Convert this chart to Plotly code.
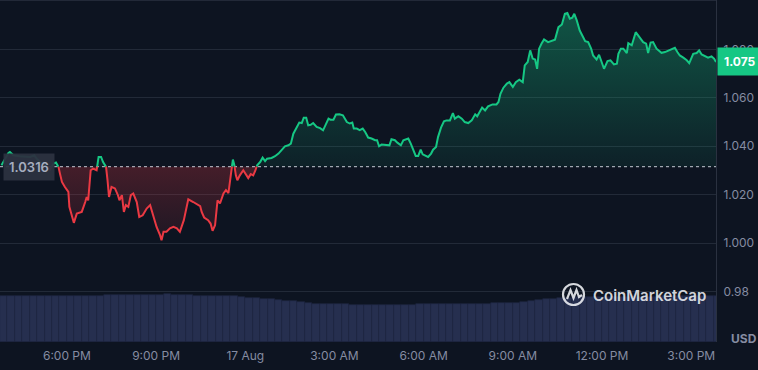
import datetime as dt
import plotly.graph_objects as go

# ---------------- data ----------------
START = dt.datetime(2023, 8, 16, 15, 45)
BASE_PRICE = 1.0316
LAST_PRICE = 1.075

# minutes after START
price_minutes = [3, 17, 20, 27, 40, 61, 69, 74, 81, 91, 101, 108, 113, 118, 121, 125, 131, 138, 140, 145,
                 149, 155, 165, 172, 175, 178, 183, 188, 195, 199, 204, 208, 214, 217, 220, 225, 232, 238, 241, 246,
                 250, 254, 259, 264, 269, 276, 281, 288, 296, 303, 309, 316, 323, 326, 330, 336, 343, 350, 357, 363,
                 371, 377, 380, 390, 404, 407, 412, 420, 425, 429, 434, 439, 444, 451, 456, 461, 464, 468, 470, 473,
                 476, 479, 484, 491, 498, 501, 506, 511, 515, 519, 525, 530, 535, 539, 548, 555, 562, 568, 575, 582,
                 587, 592, 599, 604, 609, 613, 618, 622, 627, 632, 639, 646, 652, 658, 663, 667, 673, 678, 685, 692,
                 696, 700, 706, 711, 714, 720, 726, 732, 737, 743, 750, 757, 761, 765, 770, 780, 786, 790, 797, 802,
                 809, 814, 824, 829, 834, 839, 844, 849, 853, 860, 864, 870, 874, 880, 884, 890, 896, 901, 908, 914,
                 918, 925, 932, 938, 945, 952, 959, 963, 969, 973, 979, 985, 994, 1002, 1006, 1010, 1016, 1023, 1028, 1035,
                 1041, 1048, 1055, 1059, 1065, 1070, 1075, 1080, 1084, 1088, 1093, 1098, 1106, 1113, 1120, 1127, 1134, 1140, 1145, 1150,
                 1155, 1159, 1164, 1170, 1176, 1181, 1187, 1193, 1197, 1204, 1209, 1214, 1219, 1226, 1232, 1239, 1245, 1248, 1253, 1258,
                 1265, 1268, 1275, 1283, 1290, 1298, 1304, 1308, 1313, 1318, 1325, 1335, 1342, 1349, 1355, 1362, 1367, 1372, 1379, 1386,
                 1391, 1399, 1406, 1411, 1416, 1423, 1429, 1436, 1441, 1445]

price_values = [1.0322, 1.0372, 1.0376, 1.0363, 1.0359, 1.0356, 1.0363, 1.0349, 1.0335, 1.0322, 1.0304, 1.0329, 1.0333, 1.0315, 1.0287, 1.0253, 1.0232, 1.0212, 1.0150, 1.0115,
                1.0084, 1.0122, 1.0129, 1.0170, 1.0191, 1.0177, 1.0301, 1.0308, 1.0301, 1.0356, 1.0356, 1.0335, 1.0315, 1.0260, 1.0191, 1.0232, 1.0226, 1.0198, 1.0177, 1.0198,
                1.0129, 1.0157, 1.0150, 1.0198, 1.0205, 1.0170, 1.0108, 1.0115, 1.0143, 1.0157, 1.0115, 1.0067, 1.0033, 1.0012, 1.0047, 1.0047, 1.0061, 1.0067, 1.0061, 1.0047,
                1.0095, 1.0150, 1.0181, 1.0170, 1.0153, 1.0129, 1.0106, 1.0095, 1.0081, 1.0051, 1.0074, 1.0177, 1.0164, 1.0205, 1.0219, 1.0207, 1.0260, 1.0315, 1.0345, 1.0322,
                1.0280, 1.0260, 1.0280, 1.0301, 1.0280, 1.0269, 1.0285, 1.0280, 1.0298, 1.0322, 1.0335, 1.0353, 1.0339, 1.0349, 1.0352, 1.0359, 1.0370, 1.0384, 1.0400, 1.0404,
                1.0411, 1.0452, 1.0480, 1.0498, 1.0496, 1.0518, 1.0518, 1.0487, 1.0489, 1.0496, 1.0480, 1.0475, 1.0466, 1.0494, 1.0514, 1.0510, 1.0510, 1.0531, 1.0532, 1.0528,
                1.0514, 1.0500, 1.0494, 1.0498, 1.0473, 1.0473, 1.0467, 1.0473, 1.0459, 1.0436, 1.0432, 1.0425, 1.0425, 1.0400, 1.0407, 1.0404, 1.0404, 1.0429, 1.0425, 1.0415,
                1.0404, 1.0425, 1.0432, 1.0411, 1.0384, 1.0360, 1.0360, 1.0386, 1.0367, 1.0360, 1.0356, 1.0370, 1.0386, 1.0397, 1.0438, 1.0477, 1.0503, 1.0507, 1.0507, 1.0537,
                1.0514, 1.0524, 1.0514, 1.0500, 1.0496, 1.0507, 1.0532, 1.0524, 1.0546, 1.0560, 1.0548, 1.0565, 1.0573, 1.0573, 1.0583, 1.0617, 1.0642, 1.0659, 1.0665, 1.0645,
                1.0665, 1.0675, 1.0665, 1.0734, 1.0748, 1.0796, 1.0762, 1.0758, 1.0720, 1.0803, 1.0824, 1.0841, 1.0830, 1.0834, 1.0840, 1.0892, 1.0903, 1.0947, 1.0950, 1.0927,
                1.0931, 1.0947, 1.0920, 1.0878, 1.0851, 1.0834, 1.0830, 1.0803, 1.0775, 1.0758, 1.0778, 1.0748, 1.0720, 1.0752, 1.0755, 1.0738, 1.0741, 1.0782, 1.0803, 1.0803,
                1.0785, 1.0826, 1.0817, 1.0871, 1.0854, 1.0830, 1.0824, 1.0785, 1.0828, 1.0830, 1.0803, 1.0786, 1.0789, 1.0796, 1.0799, 1.0807, 1.0789, 1.0775, 1.0766, 1.0755,
                1.0743, 1.0782, 1.0785, 1.0796, 1.0779, 1.0771, 1.0766, 1.0771, 1.0762, 1.0748]

# volume bars, one every 15 minutes (arbitrary units)
volume_step_min = 15
volume_values = [94, 94, 94, 94, 94, 94, 94, 94, 94, 94, 94, 94, 94, 94,
                 96, 96, 96, 96, 96, 96, 96, 96, 98,
                 96, 96, 96, 95, 95, 95, 95, 94,
                 94, 92, 91, 90, 89,
                 88, 86, 84, 83, 81,
                 79, 78, 78, 77, 77, 77, 76, 76, 76, 76, 76, 76, 76, 76, 76,
                 77, 77, 77, 77, 77, 77, 78, 78, 78, 78, 79, 79, 80, 80, 81,
                 83, 85, 87, 89, 90,
                 91, 92, 92, 92, 93, 93, 93, 93, 93, 93, 93, 93, 93, 94, 94, 94, 94, 94, 94, 94, 94]

y_tick_vals = [0.98, 1.00, 1.02, 1.04, 1.06, 1.08]
y_tick_text = ["0.98", "1.000", "1.020", "1.040", "1.060", "1.080"]
x_tick_times = ["2023-08-16 18:00", "2023-08-16 21:00", "2023-08-17 00:00", "2023-08-17 03:00",
                "2023-08-17 06:00", "2023-08-17 09:00", "2023-08-17 12:00", "2023-08-17 15:00"]
x_tick_text = ["6:00 PM", "9:00 PM", "17 Aug", "3:00 AM", "6:00 AM", "9:00 AM", "12:00 PM", "3:00 PM"]

# ---------------- styling ----------------
BG = "#0d1421"
GRID = "#222a38"
GREEN = "#16c784"
RED = "#ea3943"
TXT = "#858ca2"
FONT = "Inter, 'Noto Sans', sans-serif"
W, H = 758, 370
ML, MR, MT, MB = 0, 42, 0, 28
PW, PH = W - ML - MR, H - MT - MB
X_END_MIN = 1445
Y_RANGE = [0.9592, 1.1004]

# ---------------- build series ----------------
def tm(m):
    return START + dt.timedelta(minutes=m)

# insert crossing points with the baseline so colours split exactly
xs, ys = [], []
for i, (m, v) in enumerate(zip(price_minutes, price_values)):
    if i > 0:
        pm, pv = price_minutes[i - 1], price_values[i - 1]
        if (pv - BASE_PRICE) * (v - BASE_PRICE) < 0:
            f = (BASE_PRICE - pv) / (v - pv)
            xs.append(tm(pm + f * (m - pm)))
            ys.append(BASE_PRICE)
    xs.append(tm(m))
    ys.append(v)

above = [max(v, BASE_PRICE) for v in ys]
below = [min(v, BASE_PRICE) for v in ys]
green_line = [v if v >= BASE_PRICE else None for v in ys]
red_line = [v if v <= BASE_PRICE else None for v in ys]
base_line = [BASE_PRICE] * len(xs)

vol_x = [tm(i * volume_step_min + volume_step_min / 2) for i in range(len(volume_values))]

fig = go.Figure()

fig.add_trace(go.Bar(x=vol_x, y=volume_values, yaxis="y2",
                     marker=dict(color="#262f4f", line=dict(color="#1f2742", width=0.6)),
                     width=volume_step_min * 60 * 1000, hoverinfo="skip", showlegend=False))

fig.add_trace(go.Scatter(x=xs, y=base_line, mode="lines", line=dict(width=0),
                         hoverinfo="skip", showlegend=False))
fig.add_trace(go.Scatter(x=xs, y=above, mode="lines", line=dict(width=0), fill="tonexty",
                         fillgradient=dict(type="vertical",
                                           colorscale=[[0, "rgba(22,199,132,0.07)"], [1, "rgba(22,199,132,0.36)"]]),
                         hoverinfo="skip", showlegend=False))
fig.add_trace(go.Scatter(x=xs, y=base_line, mode="lines", line=dict(width=0),
                         hoverinfo="skip", showlegend=False))
fig.add_trace(go.Scatter(x=xs, y=below, mode="lines", line=dict(width=0), fill="tonexty",
                         fillgradient=dict(type="vertical",
                                           colorscale=[[0, "rgba(234,57,67,0.08)"], [1, "rgba(234,57,67,0.25)"]]),
                         hoverinfo="skip", showlegend=False))

fig.add_trace(go.Scatter(x=[tm(0), tm(X_END_MIN)], y=[BASE_PRICE, BASE_PRICE], mode="lines",
                         line=dict(color="rgba(210,214,224,0.75)", width=1.2, dash="dot"),
                         hoverinfo="skip", showlegend=False))

fig.add_trace(go.Scatter(x=xs, y=green_line, mode="lines", line=dict(color=GREEN, width=2),
                         connectgaps=False, hoverinfo="skip", showlegend=False))
fig.add_trace(go.Scatter(x=xs, y=red_line, mode="lines", line=dict(color=RED, width=2),
                         connectgaps=False, hoverinfo="skip", showlegend=False))

# ---------------- layout ----------------
def px(xp):
    return xp / PW

def py(yp):
    return 1 - yp / PH

shapes = [
    dict(type="line", xref="paper", yref="paper", x0=0, x1=1, y0=1, y1=1,
         line=dict(color="#2a3140", width=1.5)),
    # CoinMarketCap logo ring
    dict(type="circle", xref="paper", yref="paper",
         x0=px(563), x1=px(584), y0=py(305), y1=py(284),
         line=dict(color="rgba(235,237,242,0.9)", width=2.2)),
    dict(type="path", xref="paper", yref="paper",
         path=(f"M {px(567)},{py(299)} L {px(570.5)},{py(290)} L {px(573.5)},{py(298)} "
               f"L {px(576.5)},{py(290)} L {px(579)},{py(297)} L {px(582)},{py(295)}"),
         line=dict(color="rgba(235,237,242,0.9)", width=2.2)),
]

annotations = [
    dict(text="1.0316", xref="paper", yref="y", x=px(3), y=BASE_PRICE, xanchor="left", yanchor="middle",
         showarrow=False, bgcolor="rgba(44,50,64,0.95)", borderpad=5,
         font=dict(family=FONT, size=13, color="#a6adbf", weight=600)),
    dict(text="1.075", xref="paper", yref="y", x=1, y=LAST_PRICE, xanchor="left", yanchor="middle",
         xshift=1, showarrow=False, bgcolor=GREEN, borderpad=6,
         font=dict(family=FONT, size=12, color="white", weight=700)),
    dict(text="USD", xref="paper", yref="paper", x=1, y=py(338), xanchor="left", yanchor="middle",
         xshift=13, showarrow=False, font=dict(family=FONT, size=12, color=TXT, weight=700)),
    dict(text="CoinMarketCap", xref="paper", yref="paper", x=px(591), y=py(295), xanchor="left",
         yanchor="middle", showarrow=False,
         font=dict(family=FONT, size=15, color="rgba(235,237,242,0.9)", weight=600)),
]

fig.update_layout(
    width=W, height=H,
    margin=dict(l=ML, r=MR, t=MT, b=MB),
    paper_bgcolor=BG, plot_bgcolor=BG,
    showlegend=False,
    bargap=0,
    xaxis=dict(type="date", range=[tm(0), tm(X_END_MIN)], showgrid=False, zeroline=False,
               tickvals=x_tick_times, ticktext=x_tick_text, ticks="", ticklabelstandoff=5,
               tickfont=dict(family=FONT, size=12, color=TXT), showline=False, fixedrange=True),
    yaxis=dict(range=Y_RANGE, side="right", tickvals=y_tick_vals, ticktext=y_tick_text,
               showgrid=True, gridcolor=GRID, gridwidth=1, zeroline=False, ticks="",
               ticklabelstandoff=4,
               tickfont=dict(family=FONT, size=12, color=TXT),
               showline=True, linecolor="#2a3140", linewidth=1),
    yaxis2=dict(range=[0, 700], overlaying="y", visible=False),
    shapes=shapes,
    annotations=annotations,
)

fig.write_html("out.html", config={"displayModeBar": False},
               post_script="document.body.style.margin='0';document.body.style.background='#0d1421';")
